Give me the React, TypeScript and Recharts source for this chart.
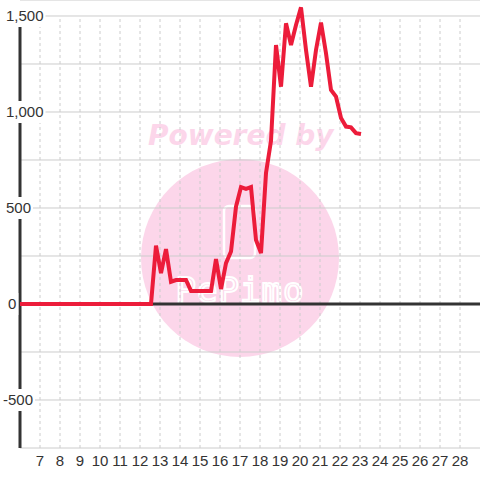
import { LineChart, Line, XAxis, YAxis, CartesianGrid, ReferenceLine } from 'recharts';

// hora do dia (decimal) e valor medido
const hours = [
  6, 12.55, 12.8, 13.05, 13.3, 13.55, 13.8, 14.05, 14.3, 14.55, 14.8, 15.05, 15.3, 15.55, 15.8,
  16.05, 16.3, 16.55, 16.8, 17.05, 17.3, 17.55, 17.8, 18.05, 18.3, 18.55, 18.8, 19.05, 19.3,
  19.55, 19.8, 20.05, 20.3, 20.55, 20.8, 21.05, 21.3, 21.55, 21.8, 22.05, 22.3, 22.55, 22.8, 23.05,
];
const values = [
  0, 0, 304, 161, 286, 116, 125, 125, 125, 68, 68, 68, 68, 68, 234,
  78, 213, 273, 507, 609, 600, 609, 333, 265, 682, 850, 1349, 1132, 1462,
  1349, 1453, 1545, 1323, 1132, 1323, 1466, 1306, 1115, 1080, 969, 924, 920, 890, 885,
];

const xTicks = [7, 8, 9, 10, 11, 12, 13, 14, 15, 16, 17, 18, 19, 20, 21, 22, 23, 24, 25, 26, 27, 28];
const yTicks = [-750, -500, -250, 0, 250, 500, 750, 1000, 1250, 1500];
const yLabelled = [-500, 0, 500, 1000, 1500];

const data = hours.map((hour, i) => ({ hour, value: values[i] }));

const TEXT = '#333333';
const GRID = '#cccccc';
const fmt = new Intl.NumberFormat('en-US');

function textWidth(s: string) {
  let w = 0;
  for (const c of s) w += c === ',' ? 4.17 : c === '-' ? 5 : 8.34;
  return w;
}

function YTick(props: any) {
  const v = Number(props.payload.value);
  if (!yLabelled.includes(v)) return <g />;
  const label = fmt.format(v);
  const x = v < 0 ? 3 : v === 0 ? 8 : 6;
  const w = textWidth(label);
  return (
    <g>
      <rect x={x - 2} y={props.y - 11} width={w + 4} height={22} fill="#ffffff" />
      <text x={x} y={props.y + 5.5} fontSize={15} fill={TEXT} textAnchor="start">
        {label}
      </text>
    </g>
  );
}

function XTick(props: any) {
  return (
    <text x={props.x} y={466} fontSize={15} fill={TEXT} textAnchor="middle">
      {props.payload.value}
    </text>
  );
}

function Watermark() {
  return (
    <svg width={480} height={480} style={{ position: 'absolute', left: 0, top: 0 }}>
      <circle cx={240} cy={258} r={99} fill="#fcd6ea" />
      <text
        x={148}
        y={145}
        fontFamily="DejaVu Sans"
        fontWeight="bold"
        fontStyle="italic"
        fontSize={28}
        fill="#fcd6ea"
      >
        Powered by
      </text>
      <rect x={224} y={206} width={31} height={52} rx={5} fill="none" stroke="#ffffff" strokeWidth={2.5} />
      <text
        x={240}
        y={302}
        textAnchor="middle"
        fontFamily="DejaVu Sans Mono"
        fontSize={34}
        letterSpacing={1}
        fill="none"
        stroke="#ffffff"
        strokeWidth={2}
      >
        PePimo
      </text>
    </svg>
  );
}

export default function App() {
  return (
    <div style={{ position: 'relative', width: 480, height: 480, background: '#ffffff' }}>
      <style>{`body{margin:0}`}</style>
      <Watermark />
      <div style={{ position: 'absolute', left: 0, top: 0 }}>
        <LineChart
          width={480}
          height={480}
          data={data}
          margin={{ top: 0, right: 0, bottom: 0, left: 0 }}
          style={{ fontFamily: '"Liberation Sans", Arial, sans-serif' }}
        >
          <CartesianGrid vertical={false} stroke={GRID} />
          {xTicks.map((t) => (
            <ReferenceLine
              key={t}
              segment={[{ x: t, y: -750 }, { x: t, y: 1500 }]}
              stroke={GRID}
              strokeDasharray="3 3"
            />
          ))}
          <ReferenceLine segment={[{ x: 6, y: -750 }, { x: 6, y: 1500 }]} stroke={TEXT} strokeWidth={3} />
          <ReferenceLine y={0} stroke={TEXT} strokeWidth={3} />
          <XAxis
            type="number"
            dataKey="hour"
            domain={[6, 29]}
            ticks={xTicks}
            axisLine={false}
            tickLine={false}
            tickSize={0}
            height={32}
            tick={<XTick />}
            interval={0}
          />
          <YAxis
            type="number"
            domain={[-750, 1583.33]}
            ticks={yTicks}
            axisLine={false}
            tickLine={false}
            tickSize={0}
            width={20}
            tick={<YTick />}
            interval={0}
          />
          <Line
            type="linear"
            dataKey="value"
            stroke="#ec1c3a"
            strokeWidth={4}
            dot={false}
            isAnimationActive={false}
          />
        </LineChart>
      </div>
    </div>
  );
}
